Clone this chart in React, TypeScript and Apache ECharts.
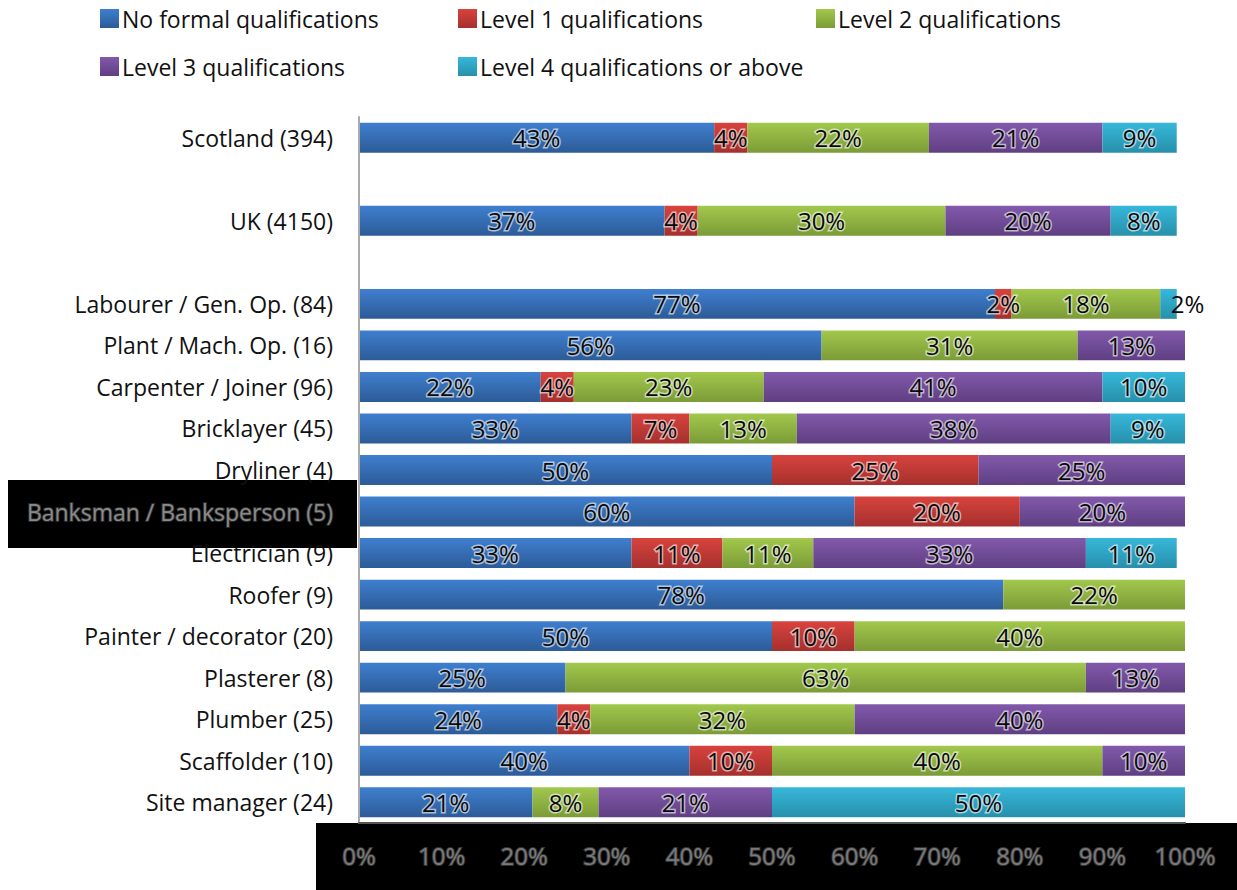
import React, { useEffect, useRef } from "react";
import * as echarts from "echarts";

const categories = [
  "Scotland (394)",
  "",
  "UK (4150)",
  " ",
  "Labourer / Gen. Op. (84)",
  "Plant / Mach. Op. (16)",
  "Carpenter / Joiner (96)",
  "Bricklayer (45)",
  "Dryliner (4)",
  "Banksman / Banksperson (5)",
  "Electrician (9)",
  "Roofer (9)",
  "Painter / decorator (20)",
  "Plasterer (8)",
  "Plumber (25)",
  "Scaffolder (10)",
  "Site manager (24)",
];

const seriesNames = [
  "No formal qualifications",
  "Level 1 qualifications",
  "Level 2 qualifications",
  "Level 3 qualifications",
  "Level 4 qualifications or above",
];

const noFormal = [43, 0, 37, 0, 77, 56, 22, 33, 50, 60, 33, 78, 50, 25, 24, 40, 21];
const level1 = [4, 0, 4, 0, 2, 0, 4, 7, 25, 20, 11, 0, 10, 0, 4, 10, 0];
const level2 = [22, 0, 30, 0, 18, 31, 23, 13, 0, 0, 11, 22, 40, 63, 32, 40, 8];
const level3 = [21, 0, 20, 0, 0, 13, 41, 38, 25, 20, 33, 0, 0, 13, 40, 10, 21];
const level4 = [9, 0, 8, 0, 2, 0, 10, 9, 0, 0, 11, 0, 0, 0, 0, 0, 50];

const xTicks = [0, 10, 20, 30, 40, 50, 60, 70, 80, 90, 100];

const colors: [string, string][] = [
  ["#3f7fcf", "#2c5b97"],
  ["#d8433e", "#a5302d"],
  ["#a2c84c", "#7b9b37"],
  ["#8259ab", "#5f3f82"],
  ["#37b7da", "#2790ab"],
];

const FONT = "Open Sans";

export default function App() {
  const ref = useRef<HTMLDivElement>(null);
  useEffect(() => {
    if (!ref.current) return;
    const chart = echarts.init(ref.current, undefined, { renderer: "svg" });
    const allData = [noFormal, level1, level2, level3, level4];
    const legendPos = [
      [100, 7],
      [458, 7],
      [816, 7],
      [100, 55],
      [458, 55],
    ];
    const series = seriesNames.map((name, si) => ({
      name,
      type: "bar",
      stack: "total",
      barCategoryGap: "28%",
      itemStyle: {
        color: new echarts.graphic.LinearGradient(0, 0, 0, 1, [
          { offset: 0, color: colors[si][0] },
          { offset: 1, color: colors[si][1] },
        ]),
      },
      label: {
        show: true,
        position: "inside",
        fontFamily: FONT,
        fontSize: 24,
        color: "#0a0a0a",
        textBorderColor: "rgba(255,255,255,0.6)",
        textBorderWidth: 3,
        formatter: (p: any) => (p.value > 0 ? p.value + "%" : ""),
      },
      data: allData[si].map((v, ci) => {
        if (si === 4 && categories[ci].startsWith("Labourer")) {
          return { value: v, label: { position: "right", distance: -6, textBorderWidth: 0 } };
        }
        return v;
      }),
    }));
    chart.setOption({
      animation: false,
      legend: seriesNames.map((name, i) => ({
        data: [name],
        left: legendPos[i][0],
        top: legendPos[i][1],
        padding: 0,
        icon: "rect",
        itemWidth: 19,
        itemHeight: 19,
        itemGap: 4,
        textStyle: { fontFamily: FONT, fontSize: 23, color: "#111", padding: [0, 0, 0, -2] },
        selectedMode: false,
      })),
      graphic: [
        {
          type: "rect",
          z: -10,
          shape: { x: 316, y: 823, width: 921, height: 67 },
          style: { fill: "#000" },
        },
        {
          type: "rect",
          z: -10,
          shape: { x: 8, y: 480, width: 349, height: 68 },
          style: { fill: "#000" },
        },
      ],
      grid: { left: 359, right: 52, top: 117, bottom: 67, containLabel: false },
      xAxis: {
        type: "value",
        min: xTicks[0],
        max: xTicks[xTicks.length - 1],
        interval: 10,
        z: 5,
        splitLine: { show: false },
        axisTick: { show: false },
        axisLine: { show: true, lineStyle: { color: "#555", width: 2 } },
        axisLabel: {
          margin: 20,
          fontFamily: FONT,
          fontSize: 24,
          color: "#7a7a7a",
          textBorderColor: "#333",
          textBorderWidth: 2,
          formatter: "{value}%",
        },
      },
      yAxis: {
        type: "category",
        data: categories,
        inverse: true,
        z: 5,
        axisTick: { show: false },
        axisLine: { show: true, lineStyle: { color: "#aaa", width: 2 } },
        axisLabel: {
          margin: 26,
          fontFamily: FONT,
          fontSize: 23,
          color: "#111",
          formatter: (v: string) =>
            v.startsWith("Banksman") ? "{b|" + v + "}" : v,
          rich: {
            b: {
              fontFamily: FONT,
              fontSize: 23,
              color: "#8a8a8a",
              textBorderColor: "#2a2a2a",
              textBorderWidth: 2,
            },
          },
        },
      },
      series,
    });
    return () => chart.dispose();
  }, []);
  return (
    <div
      ref={ref}
      style={{ position: "absolute", left: 0, top: 0, width: 1237, height: 890 }}
    />
  );
}
